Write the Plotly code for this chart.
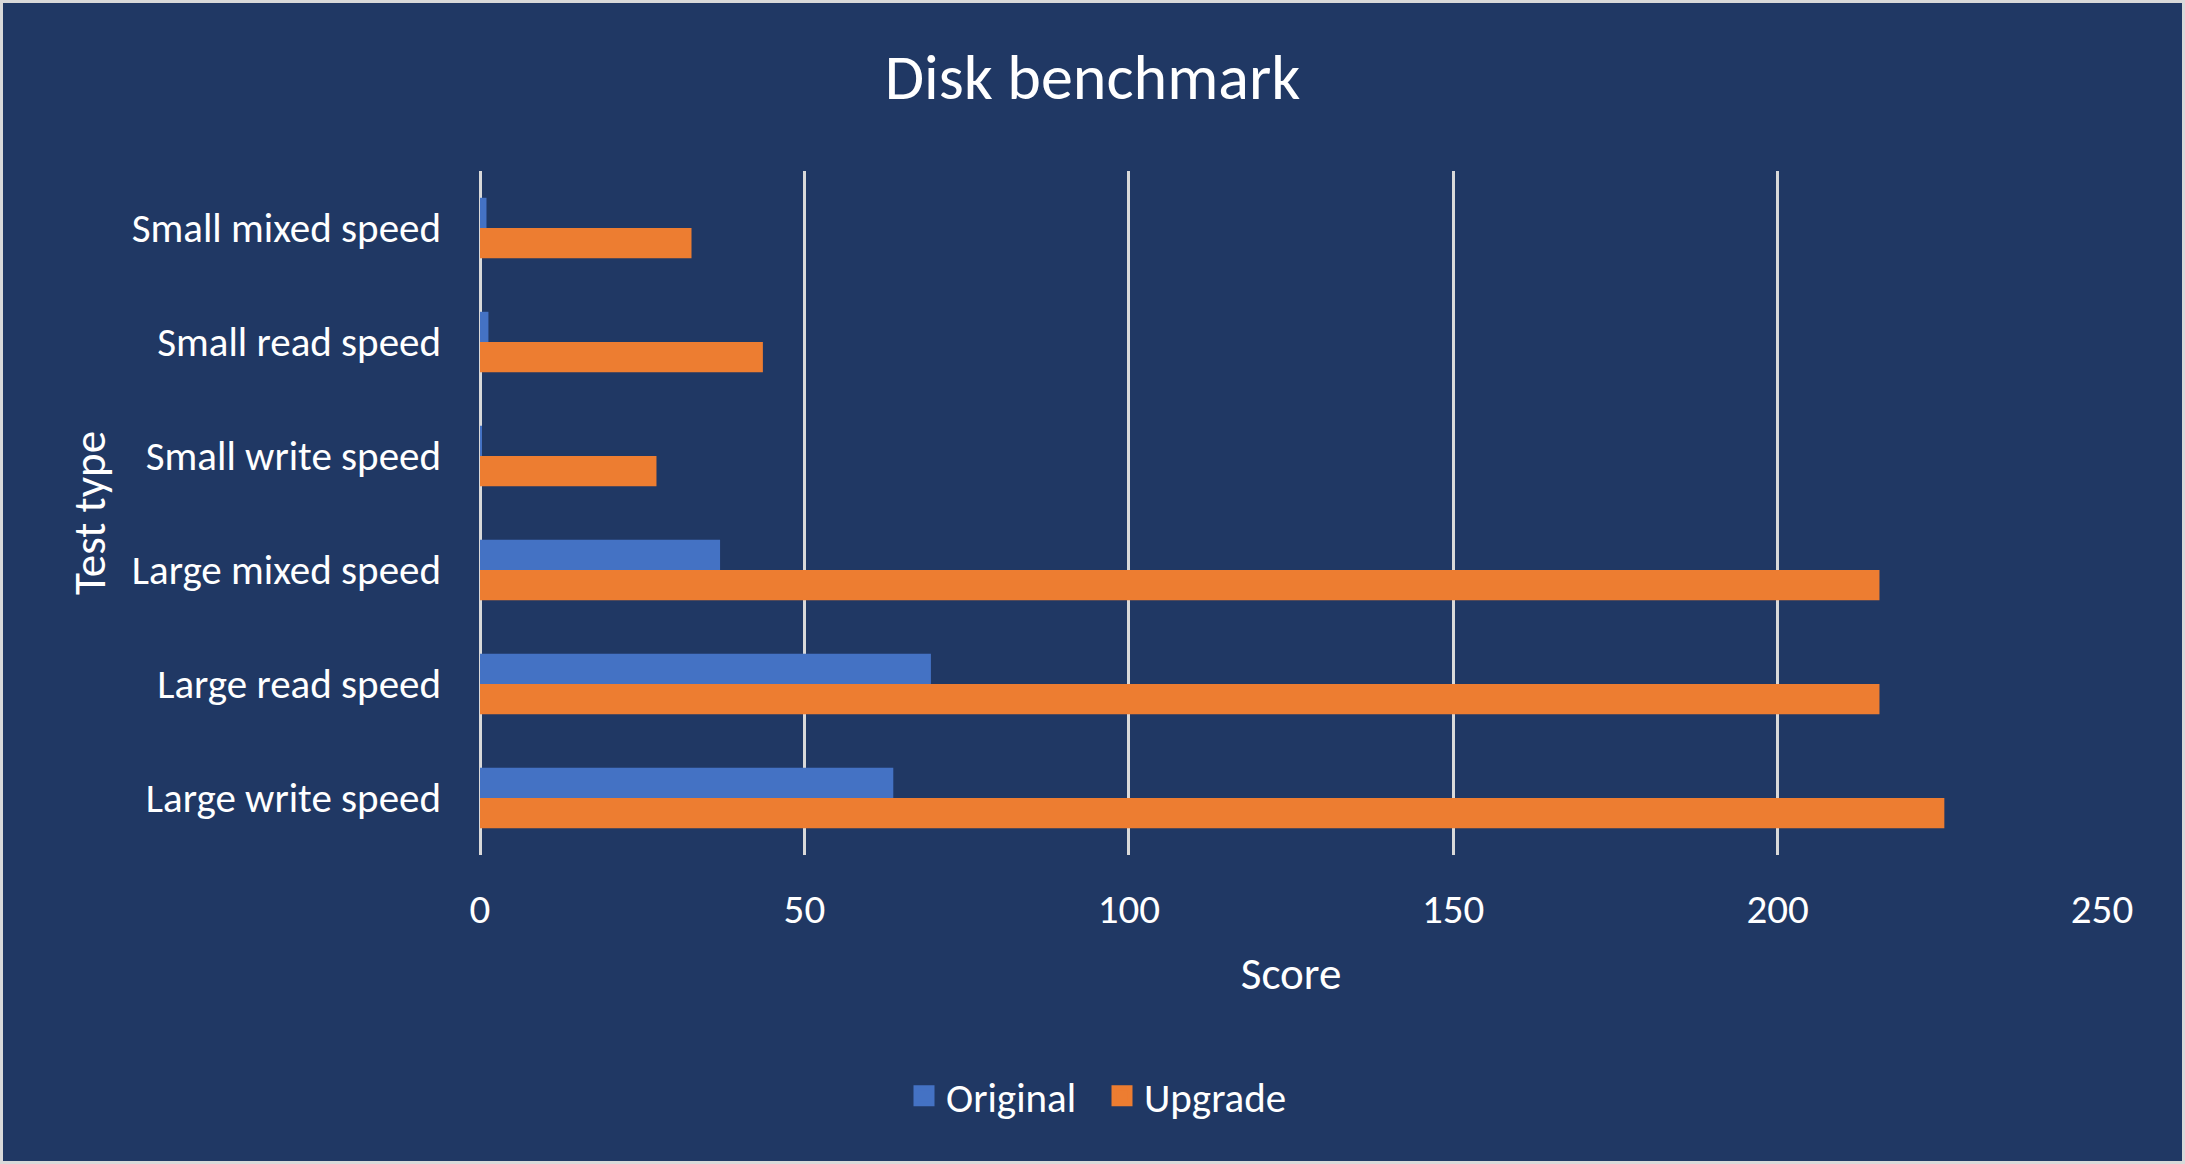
import plotly.graph_objects as go

# ---- data ----
categories = ["Large write speed", "Large read speed", "Large mixed speed",
              "Small write speed", "Small read speed", "Small mixed speed"]
original = [63.7, 69.5, 37.0, 0.3, 1.3, 1.0]
upgrade = [225.7, 215.7, 215.7, 27.2, 43.6, 32.6]
x_ticks = [0, 50, 100, 150, 200, 250]

BLUE = "#4472C4"
ORANGE = "#ED7D31"
BG = "#203864"
GRID = "#D9D9D9"
FONT = "Calibri, Carlito, 'Open Sans', sans-serif"

fig = go.Figure()

# Bars (Upgrade first so it sits below Original within each group)
fig.add_trace(go.Bar(y=categories, x=upgrade, orientation="h", name="Upgrade",
                     marker=dict(color=ORANGE, line=dict(width=0)),
                     legendgroup="up", showlegend=False))
fig.add_trace(go.Bar(y=categories, x=original, orientation="h", name="Original",
                     marker=dict(color=BLUE, line=dict(width=0)),
                     legendgroup="orig", showlegend=False))

# Legend entries (larger square swatches)
fig.add_trace(go.Scatter(x=[None], y=[None], mode="markers", name="Original",
                         marker=dict(symbol="square", size=16, color=BLUE,
                                     line=dict(color=BLUE, width=5)),
                         legendgroup="orig", showlegend=True))
fig.add_trace(go.Scatter(x=[None], y=[None], mode="markers", name="Upgrade",
                         marker=dict(symbol="square", size=16, color=ORANGE,
                                     line=dict(color=ORANGE, width=5)),
                         legendgroup="up", showlegend=True))

W, H = 2185, 1164
L, R, T, B = 480, 83, 171, 309
pw, ph = W - L - R, H - T - B

def px_x(p):
    return (p - L) / pw

def px_y(p):
    return (H - B - p) / ph

fig.update_layout(
    width=W, height=H,
    margin=dict(l=L, r=R, t=T, b=B, pad=0),
    paper_bgcolor=BG,
    plot_bgcolor=BG,
    font=dict(family=FONT, color="white", size=41),
    title=dict(text="Disk benchmark", x=0.5, xanchor="center",
               y=1 - 77 / H, yanchor="middle", yref="container",
               font=dict(size=64, color="white", family=FONT)),
    barmode="group",
    bargap=0.47,
    bargroupgap=0,
    showlegend=True,
    legend=dict(orientation="h", x=px_x(1100), xanchor="center",
                y=px_y(1096), yanchor="middle",
                font=dict(size=41, color="white"),
                bgcolor="rgba(0,0,0,0)", traceorder="normal",
                itemwidth=34, entrywidth=149, entrywidthmode="pixels",
                itemclick="toggle"),
    xaxis=dict(range=[0, 250], tickvals=x_ticks, showgrid=True,
               gridcolor=GRID, gridwidth=2.5,
               zeroline=True, zerolinecolor=GRID, zerolinewidth=2.5,
               showline=False, ticks="", ticklabelstandoff=26,
               tickfont=dict(size=41, color="white"),
               title=dict(text="Score", font=dict(size=45, color="white"),
                          standoff=24)),
    yaxis=dict(categoryorder="array", categoryarray=categories,
               showgrid=False, zeroline=False, showline=False, ticks="",
               ticklabelstandoff=38,
               tickfont=dict(size=41, color="white"),
               title=dict(text="Test type", font=dict(size=45, color="white"),
                          standoff=11)),
    shapes=[dict(type="rect", xref="paper", yref="paper",
                 x0=px_x(1.5), x1=px_x(W - 1.5), y0=px_y(H - 1.5), y1=px_y(1.5),
                 line=dict(color=GRID, width=3), fillcolor="rgba(0,0,0,0)",
                 layer="above")],
)

fig.write_html("out.html", config={"displayModeBar": False},
               post_script="document.body.style.margin='0';"
                           "document.body.style.overflow='hidden';")
